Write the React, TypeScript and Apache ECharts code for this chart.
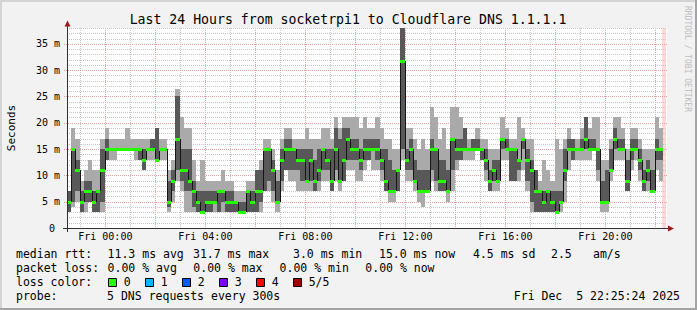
import React, { useEffect, useRef } from "react";
import * as echarts from "echarts";

// time axis in hours relative to Fri 00:00; graph spans Thu 22:28 .. Fri 22:28
const START_HOUR = -23 / 15;
const SPAN_HOURS = 24;
const STEP_HOURS = 1 / 6;
const Y_MAX = 38;

// five sorted pings per 10-minute step (ms)
const pingMin = [
  3, 4, 5, 3, 3, 5, 3, 3, 3, 13, 13, 13, 15, 15, 15, 15, 13, 13, 11, 13,
  13, 13, 13, 13, 3, 5, 9, 7, 3, 3, 3, 3, 3, 3, 3, 3, 3, 3, 3, 3,
  3, 3, 3, 3, 3, 3, 3, 7, 7, 5, 3, 7, 11, 9, 9, 7, 7, 7, 7, 7,
  7, 9, 9, 7, 9, 7, 9, 11, 11, 9, 9, 11, 13, 11, 11, 9, 7, 5, 5, 7,
  13, 9, 9, 7, 5, 4, 7, 9, 7, 7, 7, 5, 7, 11, 13, 13, 13, 13, 15, 13,
  9, 7, 7, 7, 13, 13, 9, 9, 9, 11, 7, 3, 3, 3, 3, 3, 3, 3, 3, 5,
  11, 13, 13, 13, 13, 13, 15, 9, 3, 3, 9, 13, 13, 13, 7, 11, 13, 9, 7, 7,
  7, 11, 9,
];
const pingLow = [
  3, 5, 7, 3, 5, 5, 3, 3, 5, 13, 15, 15, 15, 15, 15, 15, 15, 13, 11, 15,
  15, 13, 15, 15, 4, 7, 11, 9, 7, 7, 4, 3, 3, 3, 3, 5, 3, 5, 3, 3,
  3, 3, 3, 3, 3, 3, 5, 7, 9, 7, 5, 9, 11, 11, 11, 11, 9, 9, 9, 7,
  9, 11, 11, 7, 11, 9, 9, 13, 13, 13, 11, 13, 13, 15, 13, 11, 7, 7, 7, 7,
  15, 11, 11, 9, 7, 7, 7, 11, 9, 7, 7, 7, 11, 13, 13, 15, 15, 15, 15, 13,
  11, 7, 9, 9, 15, 15, 9, 9, 11, 15, 9, 5, 3, 3, 3, 3, 3, 3, 5, 9,
  15, 13, 15, 15, 15, 15, 15, 11, 5, 5, 11, 15, 15, 15, 7, 13, 15, 11, 7, 9,
  7, 13, 13,
];
const pingMedian = [
  5, 15, 11, 5, 7, 7, 5, 7, 11, 15, 15, 15, 15, 15, 15, 15, 15, 15, 13, 15,
  15, 13, 15, 15, 5, 9, 17, 11, 11, 9, 7, 5, 3, 5, 5, 5, 7, 7, 5, 5,
  5, 3, 3, 7, 5, 7, 7, 15, 15, 11, 5, 13, 15, 15, 15, 13, 13, 9, 13, 9,
  11, 15, 13, 9, 15, 9, 13, 17, 15, 15, 13, 15, 15, 15, 15, 13, 9, 7, 7, 11,
  31.7, 13, 15, 9, 7, 7, 7, 15, 15, 9, 9, 7, 17, 15, 15, 15, 15, 15, 15, 15,
  13, 9, 11, 9, 17, 15, 15, 15, 13, 17, 13, 11, 7, 7, 5, 7, 5, 3, 5, 11,
  15, 15, 15, 15, 17, 15, 15, 15, 5, 5, 11, 17, 15, 15, 9, 15, 15, 13, 9, 11,
  7, 15, 15,
];
const pingHigh = [
  7, 15, 13, 7, 9, 9, 7, 7, 15, 17, 15, 15, 15, 15, 15, 15, 15, 15, 15, 15,
  17, 19, 15, 15, 9, 11, 25, 15, 15, 15, 9, 7, 7, 7, 7, 7, 7, 7, 7, 7,
  5, 5, 5, 7, 7, 11, 11, 15, 15, 13, 9, 15, 17, 17, 15, 15, 15, 15, 15, 13,
  15, 15, 15, 15, 19, 17, 19, 19, 17, 17, 15, 17, 17, 17, 17, 15, 15, 13, 11, 11,
  38, 15, 17, 13, 11, 11, 11, 17, 15, 13, 13, 11, 17, 17, 17, 19, 15, 17, 17, 15,
  15, 11, 13, 13, 17, 17, 15, 15, 13, 17, 15, 13, 11, 7, 7, 7, 7, 7, 7, 15,
  17, 17, 15, 17, 21, 17, 17, 15, 9, 11, 15, 19, 17, 17, 13, 17, 17, 15, 11, 13,
  11, 17, 15,
];
const pingMax = [
  7, 19, 17, 9, 11, 13, 11, 11, 17, 19, 17, 17, 17, 17, 19, 17, 17, 17, 17, 17,
  17, 19, 17, 17, 11, 13, 26.5, 21, 19, 19, 13, 9, 13, 9, 9, 9, 9, 11, 9, 9,
  7, 7, 7, 9, 9, 11, 13, 17, 17, 15, 11, 17, 19, 19, 17, 17, 17, 19, 17, 17,
  17, 19, 19, 17, 21, 19, 21, 21, 21, 21, 19, 21, 19, 19, 21, 19, 17, 17, 15, 15,
  38, 19, 19, 17, 15, 17, 15, 23, 21, 17, 19, 15, 23, 23, 21, 19, 17, 17, 19, 17,
  17, 15, 15, 15, 21, 19, 17, 17, 21, 19, 17, 17, 11, 9, 13, 11, 9, 17, 15, 17,
  19, 17, 17, 19, 21, 19, 21, 21, 13, 13, 17, 21, 21, 19, 15, 19, 19, 17, 15, 15,
  15, 21, 19,
];

const hourLines = [-1, 0, 1, 2, 3, 4, 5, 6, 7, 8, 9, 10, 11, 12, 13, 14, 15, 16, 17, 18, 19, 20, 21, 22];
const msLines = [1, 2, 3, 4, 5, 6, 7, 8, 9, 10, 11, 12, 13, 14, 15, 16, 17, 18, 19, 20, 21, 22, 23, 24, 25, 26, 27, 28, 29, 30, 31, 32, 33, 34, 35, 36, 37, 38];
const xLabelHours = [0, 4, 8, 12, 16, 20];
const nowBand = [22.27, 22.43];

const titleText = "Last 24 Hours from socketrpi1 to Cloudflare DNS 1.1.1.1";
const statsRtt = [
  ["median rtt:", 16],
  ["11.3 ms avg", 107.6],
  ["31.7 ms max", 193],
  ["3.0 ms min", 293],
  ["15.0 ms now", 379],
  ["4.5 ms sd", 473],
  ["2.5", 551],
  ["am/s", 593],
];
const statsLoss = [
  ["packet loss:", 16],
  ["0.00 % avg", 107.6],
  ["0.00 % max", 193.3],
  ["0.00 % min", 279.6],
  ["0.00 % now", 365.3],
];
const lossLabels = ["0", "1", "2", "3", "4", "5/5"];
const lossColors = ["#26ff00", "#00b8ff", "#0059ff", "#7e00ff", "#ff0000", "#a10000"];
const probeText = "5 DNS requests every 300s";
const dateText = "Fri Dec \u00a05 22:25:24 2025";

const MONO = "DejaVu Sans Mono";
const LIGHT = "#aaaaaa";
const DARK = "#585858";
const GREEN = "#26ff00";
const MINOR = "#c6c6c6";
const MAJOR = "#e8a0a0";
const AXIS = "#303030";
const ARROW = "#9a1c1c";

function pad2(n: number) {
  return (n < 10 ? "0" : "") + n;
}

export default function App() {
  const ref = useRef<HTMLDivElement>(null);

  useEffect(() => {
    if (!ref.current) return;
    const chart = echarts.init(ref.current, null, { renderer: "svg" });

    const smokeData = pingMedian.map((m, i) => [
      START_HOUR + i * STEP_HOURS,
      pingMin[i],
      pingLow[i],
      m,
      pingHigh[i],
      pingMax[i],
    ]);
    const medianData = pingMedian.map((m, i) => [
      START_HOUR + i * STEP_HOURS,
      m,
      i > 0 ? pingMedian[i - 1] : m,
    ]);

    const renderSmoke = (params: any, api: any) => {
      const t = api.value(0);
      const xa = Math.round(api.coord([t, 0])[0]);
      const xb = Math.round(api.coord([t + STEP_HOURS, 0])[0]);
      const w = Math.max(1, xb - xa);
      const yOf = (v: number) => Math.round(api.coord([t, v])[1]);
      const lo = api.value(1), q1 = api.value(2), q3 = api.value(4), hi = api.value(5);
      return {
        type: "group",
        children: [
          { type: "rect", shape: { x: xa, y: yOf(hi), width: w, height: Math.max(0, yOf(lo) - yOf(hi)) }, style: { fill: LIGHT } },
          { type: "rect", shape: { x: xa, y: yOf(q3), width: w, height: Math.max(0, yOf(q1) - yOf(q3)) }, style: { fill: DARK } },
        ],
      };
    };

    const renderMedian = (params: any, api: any) => {
      const t = api.value(0);
      const xa = Math.round(api.coord([t, 0])[0]);
      const xb = Math.round(api.coord([t + STEP_HOURS, 0])[0]);
      const y = Math.round(api.coord([t, api.value(1)])[1]);
      const yp = Math.round(api.coord([t, api.value(2)])[1]);
      const children: any[] = [];
      if (yp !== y) {
        children.push({ type: "line", shape: { x1: xa + 0.5, y1: yp, x2: xa + 0.5, y2: y }, style: { stroke: "#151515", lineWidth: 1 } });
      }
      children.push({ type: "rect", shape: { x: xa, y: y - 1, width: Math.max(1, xb - xa), height: 3 }, style: { fill: GREEN } });
      return { type: "group", children };
    };

    const renderVGrid = (params: any, api: any) => {
      const h = api.value(0);
      const x = Math.round(api.coord([h, 0])[0]) + 0.5;
      const cs = params.coordSys;
      return {
        type: "line",
        shape: { x1: x, y1: cs.y, x2: x, y2: cs.y + cs.height },
        style: { stroke: h % 2 === 0 ? MAJOR : MINOR, lineWidth: 1, lineDash: [1, 1] },
      };
    };

    const renderHGrid = (params: any, api: any) => {
      const v = api.value(1);
      const y = Math.round(api.coord([START_HOUR, v])[1]) + 0.5;
      const cs = params.coordSys;
      const major = v % 5 === 0;
      return {
        type: "line",
        shape: { x1: major ? cs.x - 3 : cs.x, y1: y, x2: cs.x + cs.width, y2: y },
        style: { stroke: major ? MAJOR : MINOR, lineWidth: 1, lineDash: [1, 1] },
      };
    };

    const renderBand = (params: any, api: any) => {
      const a = api.coord([api.value(0), 0]);
      const b = api.coord([api.value(1), Y_MAX]);
      return { type: "rect", shape: { x: a[0], y: b[1], width: b[0] - a[0], height: a[1] - b[1] }, style: { fill: "#ffd9d9" } };
    };

    const txt = (text: string, x: number, y: number, extra: any = {}) => ({
      type: "text",
      x,
      y,
      z: 100,
      silent: true,
      style: {
        text,
        fill: "#000",
        fontFamily: MONO,
        fontSize: 11.5,
        align: "left",
        verticalAlign: "middle",
        ...(extra.style || {}),
      },
      ...(extra.rotation !== undefined ? { rotation: extra.rotation } : {}),
    });

    const graphics: any[] = [];
    // frame
    graphics.push({ type: "rect", z: 100, silent: true, shape: { x: 0, y: 0, width: 697, height: 2 }, style: { fill: "#d4d4d4" } });
    graphics.push({ type: "rect", z: 100, silent: true, shape: { x: 0, y: 0, width: 2, height: 310 }, style: { fill: "#d4d4d4" } });
    graphics.push({ type: "rect", z: 100, silent: true, shape: { x: 695, y: 0, width: 2, height: 310 }, style: { fill: "#a4a4a4" } });
    graphics.push({ type: "rect", z: 100, silent: true, shape: { x: 0, y: 308, width: 697, height: 2 }, style: { fill: "#a4a4a4" } });
    // title and side texts
    graphics.push(txt(titleText, 348, 19, { style: { align: "center", fontSize: 13.2 } }));
    graphics.push(txt("Seconds", 11, 128, { rotation: Math.PI / 2, style: { align: "center", fontSize: 11 } }));
    graphics.push(txt("RRDTOOL / TOBI OETIKER", 687.5, 59, { rotation: -Math.PI / 2, style: { align: "center", fontSize: 8, fill: "#bdbdbd" } }));
    // y-axis zero label
    graphics.push(txt("0", 55, 228.5, { style: { align: "right", fontSize: 10 } }));
    // axes
    graphics.push({ type: "line", z: 100, silent: true, shape: { x1: 67.5, y1: 232, x2: 67.5, y2: 24 }, style: { stroke: AXIS, lineWidth: 1 } });
    graphics.push({ type: "line", z: 100, silent: true, shape: { x1: 63, y1: 228.5, x2: 670, y2: 228.5 }, style: { stroke: AXIS, lineWidth: 1 } });
    graphics.push({ type: "polygon", z: 101, silent: true, shape: { points: [[67.5, 20.5], [64.5, 26.5], [70.5, 26.5]] }, style: { fill: ARROW } });
    graphics.push({ type: "polygon", z: 101, silent: true, shape: { points: [[674, 228.5], [668, 225.5], [668, 231.5]] }, style: { fill: ARROW } });
    // legend
    const rowY = [254.3, 268.3, 282.3, 296.3];
    statsRtt.forEach(([s, x]) => graphics.push(txt(s as string, x as number, rowY[0])));
    statsLoss.forEach(([s, x]) => graphics.push(txt(s as string, x as number, rowY[1])));
    graphics.push(txt("loss color:", 16, rowY[2]));
    lossLabels.forEach((lab, k) => {
      const bx = 108.5 + k * 37;
      graphics.push({ type: "rect", z: 100, silent: true, shape: { x: bx, y: 278.5, width: 8, height: 8 }, style: { fill: lossColors[k], stroke: "#000", lineWidth: 1 } });
      graphics.push(txt(lab, bx + 15.2, rowY[2]));
    });
    graphics.push(txt("probe:", 16, rowY[3]));
    graphics.push(txt(probeText, 107.1, rowY[3]));
    graphics.push(txt(dateText, 680, rowY[3], { style: { align: "right" } }));

    const option: any = {
      animation: false,
      backgroundColor: "#f2f2f2",
      grid: {
        left: 67,
        top: 28,
        width: 600,
        height: 200,
        show: true,
        backgroundColor: "#ffffff",
        borderWidth: 0,
        containLabel: false,
        outerBoundsMode: "none",
      },
      xAxis: {
        type: "value",
        min: START_HOUR,
        max: START_HOUR + SPAN_HOURS,
        axisLine: { show: false },
        axisTick: { show: false },
        splitLine: { show: false },
        axisLabel: {
          customValues: xLabelHours,
          formatter: (v: number) => "Fri " + pad2(Math.round(v)) + ":00",
          fontFamily: MONO,
          fontSize: 10,
          color: "#000",
          margin: 3,
          showMinLabel: true,
          showMaxLabel: true,
          hideOverlap: false,
        },
      },
      yAxis: {
        type: "value",
        min: 0,
        max: Y_MAX,
        interval: 5,
        axisLine: { show: false },
        axisTick: { show: false },
        splitLine: { show: false },
        axisLabel: {
          fontFamily: MONO,
          fontSize: 10,
          color: "#000",
          margin: 7,
          formatter: (v: number) => (v % 5 !== 0 || v === 0 ? "" : v + " m"),
        },
      },
      graphic: graphics,
      series: [
        { type: "custom", silent: true, renderItem: renderBand, data: [nowBand], encode: { x: [0, 1] }, z: 1 },
        { type: "custom", silent: true, renderItem: renderVGrid, data: hourLines.map((h) => [h, 0]), encode: { x: 0, y: 1 }, z: 1 },
        { type: "custom", silent: true, renderItem: renderHGrid, data: msLines.map((v) => [START_HOUR, v]), encode: { x: 0, y: 1 }, z: 1 },
        { type: "custom", silent: true, renderItem: renderSmoke, data: smokeData, encode: { x: 0, y: [1, 5] }, z: 2 },
        { type: "custom", silent: true, renderItem: renderMedian, data: medianData, encode: { x: 0, y: 1 }, z: 3 },
      ],
    };

    chart.setOption(option);
    return () => chart.dispose();
  }, []);

  return <div ref={ref} style={{ position: "fixed", left: 0, top: 0, width: 697, height: 310 }} />;
}
